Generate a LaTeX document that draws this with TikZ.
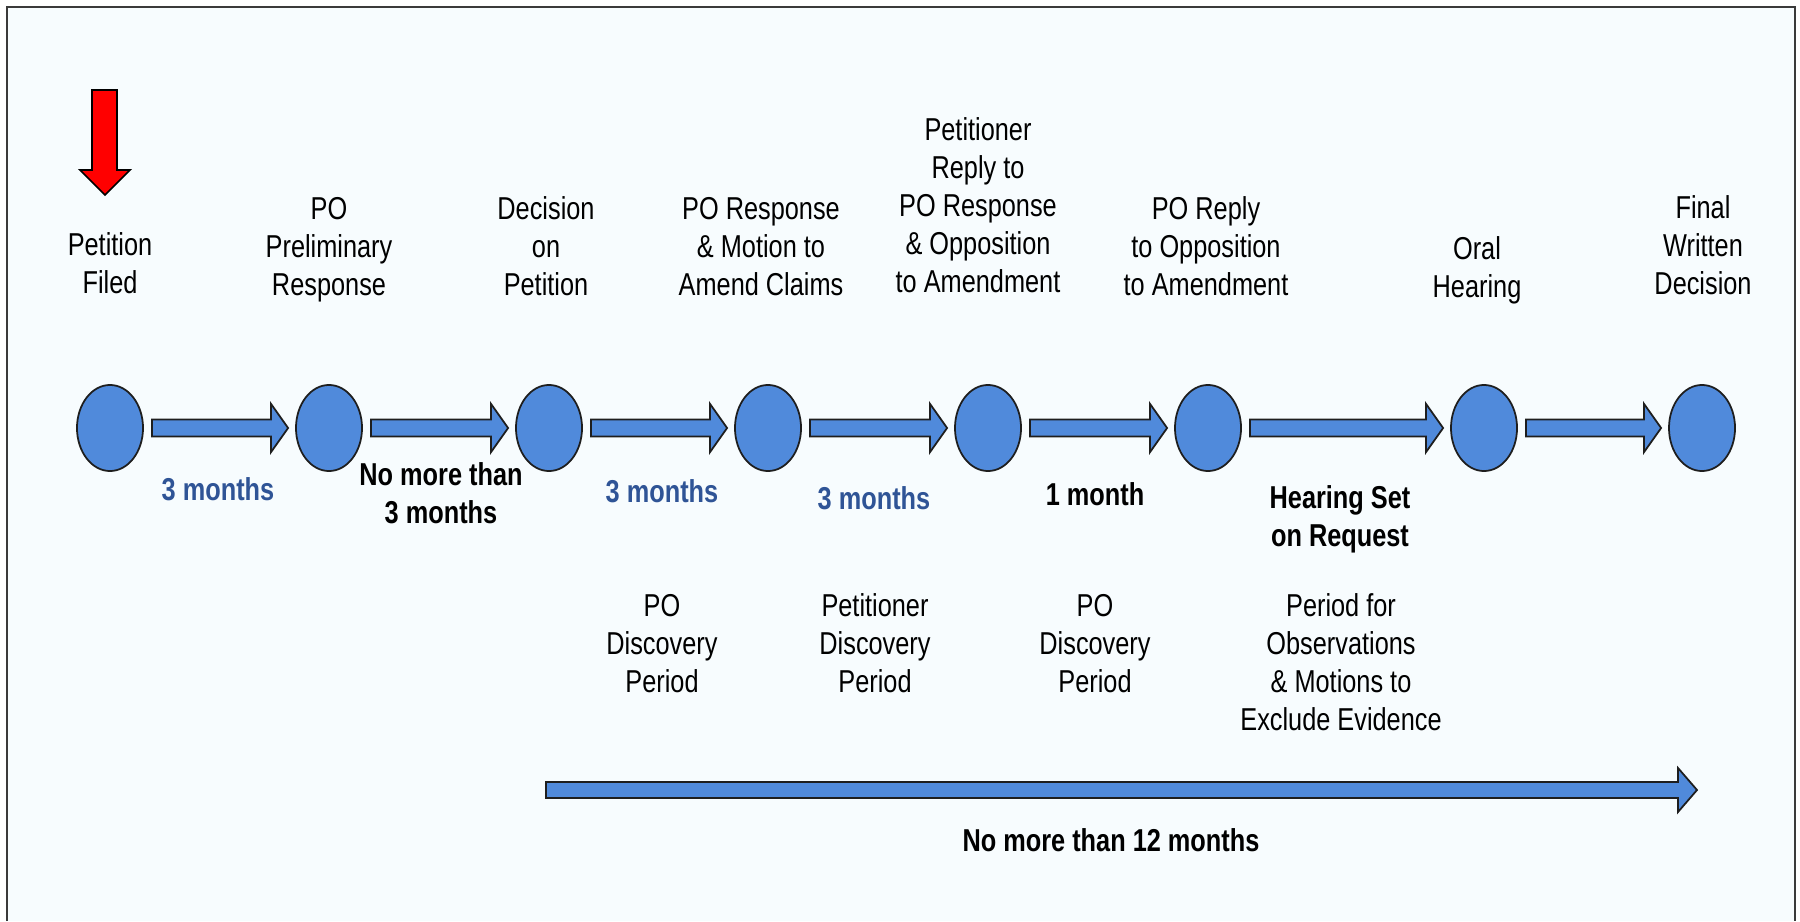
\documentclass[tikz,border=0pt]{standalone}
\usepackage{fontspec}
\setmainfont{Liberation Sans}[FakeStretch=0.8]
\usetikzlibrary{shapes.geometric,calc}

\definecolor{evfill}{HTML}{508ADB}
\definecolor{evline}{HTML}{1E1E1E}
\definecolor{durblue}{HTML}{2F5496}
\definecolor{panel}{HTML}{F7FCFE}
\definecolor{framegray}{HTML}{3A3A3A}
\definecolor{alertred}{HTML}{FF0000}

\tikzset{
  event/.style={ellipse, draw=evline, fill=evfill, line width=0.5pt,
    minimum width=0.66cm, minimum height=0.86cm, inner sep=0pt},
  % multi-line labels are placed by the baseline of their last line
  lbl/.style={align=center, anchor=base, inner sep=0pt,
    font=\fontsize{9pt}{10.8pt}\selectfont},
  dur/.style={lbl, font=\fontsize{9pt}{10.8pt}\selectfont\bfseries},
  blockarrow/.style={draw=evline, fill=evfill, line width=0.5pt, line join=miter},
}

% block arrow from #1 to #2: shaft half height #3, head half height #4, head length #5
\newcommand\blockarr[5]{%
  \path[blockarrow] let \p1=(#1), \p2=(#2) in
    (\x1,\y1-#3) -- (\x2-#5,\y1-#3) -- (\x2-#5,\y1-#4) -- (\x2,\y1)
    -- (\x2-#5,\y1+#4) -- (\x2-#5,\y1+#3) -- (\x1,\y1+#3) -- cycle;}

\begin{document}
\begin{tikzpicture}[x=0.01cm, y=-0.01cm]
  \useasboundingbox (0,0) rectangle (1800,921);
  \fill[white] (0,0) rectangle (1800,921);
  \fill[panel] (7,7) rectangle (1795,921);
  \draw[framegray, line width=0.8pt] (7,921) -- (7,7) -- (1795,7) -- (1795,921);

  % milestones
  \foreach \n/\x in {1/110, 2/329, 3/549, 4/768, 5/988, 6/1208, 7/1484, 8/1702}
    \node[event] (c\n) at (\x,428) {};

  % milestone titles
  \node[lbl] (t1) at (110,293) {Petition\\Filed};
  \node[lbl] (t2) at (329,295) {PO\\Preliminary\\Response};
  \node[lbl] (t3) at (546,295) {Decision\\on\\Petition};
  \node[lbl] (t4) at (761,295) {PO Response\\\& Motion to\\Amend Claims};
  \node[lbl] (t5) at (978,292) {Petitioner\\Reply to\\PO Response\\\& Opposition\\to Amendment};
  \node[lbl] (t6) at (1206,295) {PO Reply\\to Opposition\\to Amendment};
  \node[lbl] (t7) at (1477,297) {Oral\\Hearing};
  \node[lbl] (t8) at (1703,294) {Final\\Written\\Decision};

  % marker on the first milestone
  \draw[fill=alertred, draw=black, line width=0.5pt, line join=miter]
    (92,90) -- (117,90) -- (117,170) -- (130,170) -- (105,195)
    -- (80,170) -- (92,170) -- cycle;

  % links between milestones
  \foreach \a/\b in {1/2, 2/3, 3/4, 4/5, 5/6, 6/7, 7/8}
    \blockarr{$(c\a.east)+(8,0)$}{$(c\b.west)+(-7,0)$}{0.085cm}{0.24cm}{0.17cm};

  % durations
  \node[dur, text=durblue] (d1) at (218,500) {3 months};
  \node[dur] (d2) at (441,523) {No more than\\3 months};
  \node[dur, text=durblue] (d3) at (662,502) {3 months};
  \node[dur, text=durblue] (d4) at (874,509) {3 months};
  \node[dur] (d5) at (1095,505) {1 month};
  \node[dur] (d6) at (1340,546) {Hearing Set\\on Request};

  % periods
  \node[lbl] (p1) at (662,692) {PO\\Discovery\\Period};
  \node[lbl] (p2) at (875,692) {Petitioner\\Discovery\\Period};
  \node[lbl] (p3) at (1095,692) {PO\\Discovery\\Period};
  \node[lbl] (p4) at (1341,730) {Period for\\Observations\\\& Motions to\\Exclude Evidence};

  % overall span
  \coordinate (spanA) at (546,790);
  \coordinate (spanB) at (1697,790);
  \blockarr{spanA}{spanB}{0.08cm}{0.22cm}{0.19cm}
  \node[dur] (total) at (1111,851) {No more than 12 months};
\end{tikzpicture}
\end{document}
